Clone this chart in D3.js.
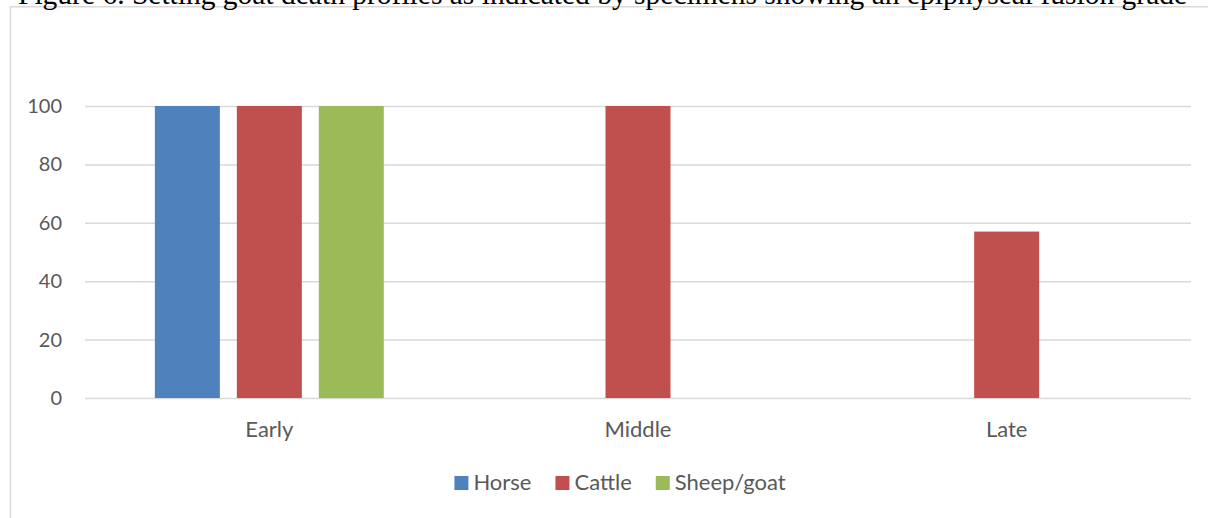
<!DOCTYPE html>
<html>
<head>
<meta charset="utf-8">
<script src="https://cdn.jsdelivr.net/npm/d3@7"></script>
<style>
  html, body { margin: 0; padding: 0; background: #ffffff; overflow: hidden; }
  svg { display: block; }
</style>
</head>
<body>
<svg id="chart" width="1208" height="518"></svg>
<script>
// Fusion stages and percentage of fused specimens per taxon
const categories = ["Early", "Middle", "Late"];
const seriesNames = ["Horse", "Cattle", "Sheep/goat"];
const horse = [100, 0, 0];
const cattle = [100, 100, 57];
const sheepGoat = [100, 0, 0];
const yTicks = [0, 20, 40, 60, 80, 100];
const colors = ["#4f81bd", "#c0504d", "#9bbb59"];
const caption = "Figure 6. Setting goat death profiles as indicated by specimens showing an epiphyseal fusion grade";

const seriesValues = [horse, cattle, sheepGoat];
const rows = categories.map((c, i) => ({
  category: c,
  values: seriesNames.map((s, j) => ({ series: s, value: seriesValues[j][i], color: colors[j] }))
}));

const svg = d3.select("#chart");
const labelFont = "Lato, 'Open Sans', sans-serif";
const textColor = "#595959";

// Chart frame
svg.append("rect")
  .attr("x", 10.5).attr("y", 6.75)
  .attr("width", 1300).attr("height", 600)
  .attr("fill", "#fff")
  .attr("stroke", "#d9d9d9")
  .attr("stroke-width", 1.5);

// Caption line running above the frame (page top cuts through it)
svg.append("text")
  .attr("x", 18)
  .attr("y", 3.5)
  .attr("font-family", "'Liberation Serif', 'Times New Roman', serif")
  .attr("font-size", 29.5)
  .attr("fill", "#000")
  .text(caption);

const plot = { left: 85, right: 1191, top: 106, bottom: 398 };

const y = d3.scaleLinear().domain([0, 100]).range([plot.bottom, plot.top]);

const x0 = d3.scaleBand()
  .domain(categories)
  .range([plot.left, plot.right])
  .paddingInner(0.379)
  .paddingOuter(0.379 / 2);

const x1 = d3.scaleBand()
  .domain(seriesNames)
  .range([0, x0.bandwidth()])
  .paddingInner(0.207)
  .paddingOuter(0);

// Horizontal gridlines and value labels
const yAxis = d3.axisLeft(y).tickValues(yTicks).tickSize(-(plot.right - plot.left)).tickPadding(23);
const gy = svg.append("g")
  .attr("transform", `translate(${plot.left},0)`)
  .call(yAxis);
gy.select(".domain").remove();
gy.selectAll(".tick line")
  .attr("stroke", "#d9d9d9")
  .attr("stroke-width", 1.5);
gy.selectAll(".tick text")
  .attr("font-family", labelFont)
  .attr("font-size", 20)
  .attr("fill", textColor);

// Bars
const groups = svg.append("g").selectAll("g")
  .data(rows)
  .join("g")
  .attr("transform", d => `translate(${x0(d.category)},0)`);

groups.selectAll("rect")
  .data(d => d.values)
  .join("rect")
  .attr("x", d => x1(d.series))
  .attr("width", x1.bandwidth())
  .attr("y", d => y(d.value))
  .attr("height", d => y(0) - y(d.value))
  .attr("fill", d => d.color);

// Category axis
const xAxis = d3.axisBottom(x0).tickSize(0).tickPadding(23);
const gx = svg.append("g")
  .attr("transform", `translate(0,${plot.bottom})`)
  .call(xAxis);
gx.select(".domain").remove();
gx.selectAll(".tick text")
  .attr("font-family", labelFont)
  .attr("font-size", 22)
  .attr("fill", textColor);

// Legend, laid out left to right and centred under the chart
const legend = svg.append("g");
const items = legend.selectAll("g")
  .data(seriesNames.map((s, i) => ({ name: s, color: colors[i] })))
  .join("g");
items.append("rect")
  .attr("y", -14)
  .attr("width", 14).attr("height", 14)
  .attr("fill", d => d.color);
items.append("text")
  .attr("x", 19).attr("y", 0)
  .attr("font-family", labelFont)
  .attr("font-size", 22)
  .attr("fill", textColor)
  .text(d => d.name);
let cursor = 0;
items.each(function () {
  const g = d3.select(this);
  g.attr("transform", `translate(${cursor},0)`);
  cursor += 19 + g.select("text").node().getComputedTextLength() + 24;
});
const legendWidth = cursor - 24;
legend.attr("transform", `translate(${620 - legendWidth / 2},490)`);
</script>
</body>
</html>
